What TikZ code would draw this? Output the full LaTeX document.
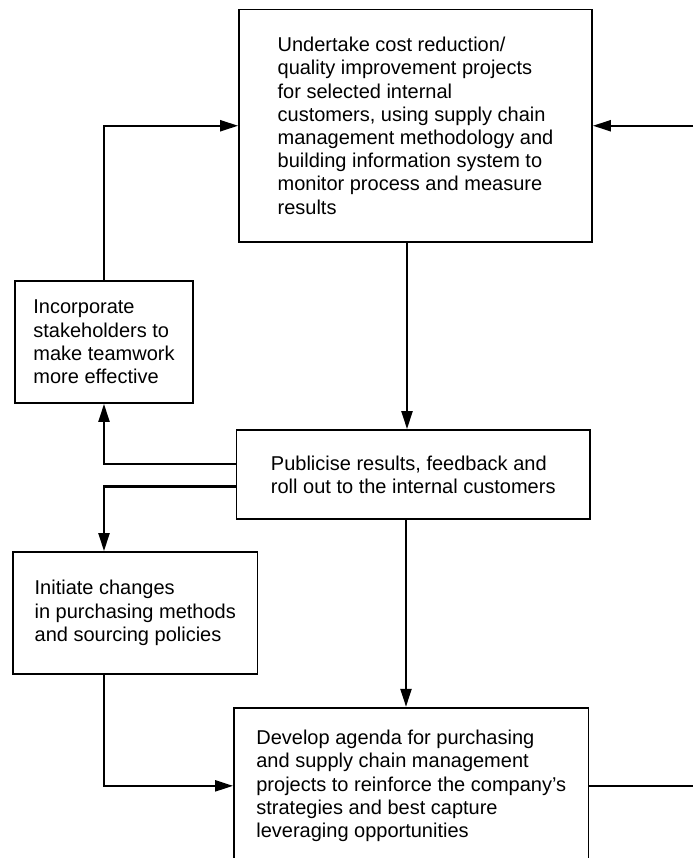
\documentclass[tikz,border=0pt]{standalone}
\usepackage{fontspec}
\setmainfont{Liberation Sans}
\usetikzlibrary{arrows.meta}
\begin{document}
\begin{tikzpicture}[x=1pt,y=-1pt,
  box/.style={draw, line width=1.8pt, rectangle, align=left, inner sep=0pt,
    font=\fontsize{20}{23.2}\selectfont},
  arr/.style={line width=2.2pt, -{Triangle[length=18pt,width=11pt]}},
  conn/.style={line width=2.2pt}]
\useasboundingbox (0,0) rectangle (693,858);
\clip (0,0) rectangle (693,858);

\node[box, minimum width=353pt, minimum height=232.5pt] (T) at (415.5,125.75)
  {Undertake cost reduction/\\quality improvement projects\\for selected internal\\customers, using supply chain\\management methodology and\\building information system to\\monitor process and measure\\results};
\node[box, minimum width=178pt, minimum height=122pt] (I) at (104,342)
  {Incorporate\\stakeholders to\\make teamwork\\more effective};
\node[box, minimum width=353.5pt, minimum height=89pt] (P) at (413.25,474.5)
  {Publicise results, feedback and\\roll out to the internal customers};
\node[box, minimum width=244.5pt, minimum height=122pt] (N) at (135.25,613)
  {Initiate changes\\in purchasing methods\\and sourcing policies};
\node[box, minimum width=354.5pt, minimum height=156.3pt] (D) at (411.25,785.85)
  {Develop agenda for purchasing\\and supply chain management\\projects to reinforce the company’s\\strategies and best capture\\leveraging opportunities};

\coordinate (rin) at (693,125.75);
\coordinate (rout) at (693,785.85);
\coordinate (v1) at (407,0);
\coordinate (v2) at (406,0);

\draw[arr] (I.north) |- (T.west);
\draw[arr] (rin) -- (T.east);
\draw[arr] (T.south -| v1) -- (P.north -| v1);
\draw[arr] ([yshift=10.5pt]P.west) -| (I.south);
\draw[arr] ([yshift=-12pt]P.west) -| (N.north -| I.south);
\draw[arr] (N.south -| I.south) |- (D.west);
\draw[arr] (P.south -| v2) -- (D.north -| v2);
\draw[conn] (D.east) -- (rout);
\end{tikzpicture}
\end{document}
